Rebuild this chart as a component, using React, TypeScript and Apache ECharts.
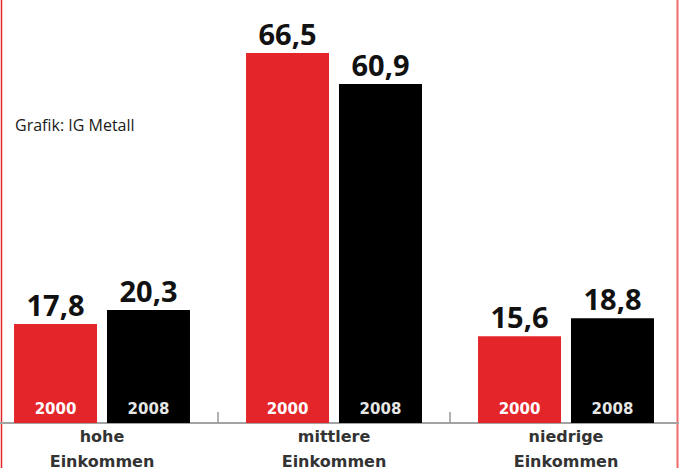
import React, { useEffect, useRef } from "react";
import * as echarts from "echarts";

const categories = ["hohe\nEinkommen", "mittlere\nEinkommen", "niedrige\nEinkommen"];
const yearA = "2000";
const yearB = "2008";
const values2000 = [17.8, 66.5, 15.6];
const values2008 = [20.3, 60.9, 18.8];
const sourceText = "Grafik: IG Metall";
const titleFragment = "(Angaben in %)";

const fmt = (v: number) => v.toFixed(1).replace(".", ",");

export default function App() {
  const ref = useRef<HTMLDivElement>(null);
  useEffect(() => {
    if (!ref.current) return;
    const chart = echarts.init(ref.current, null, { renderer: "svg" });
    const topLabel = {
      show: true,
      position: "top",
      distance: 5,
      formatter: (p: any) => fmt(p.value),
      fontFamily: "Open Sans",
      fontWeight: "bold",
      fontSize: 29,
      color: "#111",
    };
    const yearLabel = (year: string, color: string) => ({
      show: true,
      position: "insideBottom",
      distance: 7,
      formatter: () => year,
      fontFamily: "DejaVu Sans",
      fontWeight: "bold",
      fontSize: 15,
      color,
    });
    const barCommon = { type: "bar", barWidth: 83, barGap: "12%" };
    chart.setOption({
      animation: false,
      backgroundColor: "#ffffff",
      grid: { left: -14, width: 696, top: 0, height: 423, outerBoundsMode: "none", containLabel: false },
      xAxis: [
        {
          type: "category",
          data: categories,
          axisLine: { lineStyle: { color: "#a3a3a3", width: 2 } },
          axisTick: { show: true, inside: true, length: 11, lineStyle: { color: "#999", width: 1.5 } },
          axisLabel: {
            margin: 1,
            fontFamily: "DejaVu Sans",
            fontWeight: "bold",
            fontSize: 16,
            lineHeight: 25,
            color: "#333",
          },
        },
        { type: "category", data: categories, show: false },
      ],
      yAxis: { type: "value", min: 0, max: 76, show: false, splitLine: { show: false } },
      series: [
        { ...barCommon, name: yearA, data: values2000, itemStyle: { color: "#e4262b" }, label: topLabel },
        { ...barCommon, name: yearB, data: values2008, itemStyle: { color: "#000000" }, label: topLabel },
        {
          ...barCommon,
          name: yearA + " ",
          xAxisIndex: 1,
          data: values2000,
          itemStyle: { color: "rgba(0,0,0,0)" },
          label: yearLabel(yearA, "#ffffff"),
          z: 5,
        },
        {
          ...barCommon,
          name: yearB + " ",
          xAxisIndex: 1,
          data: values2008,
          itemStyle: { color: "rgba(0,0,0,0)" },
          label: yearLabel(yearB, "#e6e6e6"),
          z: 5,
        },
      ],
      graphic: [
        {
          type: "text",
          left: 424,
          top: -27,
          style: {
            text: titleFragment,
            fontFamily: "Open Sans",
            fontWeight: "bold",
            fontSize: 22,
            fill: "#111",
          },
        },
        {
          type: "text",
          left: 15,
          top: 117,
          style: {
            text: sourceText,
            fontFamily: "Open Sans",
            fontSize: 16,
            fill: "#1a1a1a",
          },
        },
        {
          type: "line",
          shape: { x1: 1.5, y1: 0, x2: 1.5, y2: 468 },
          style: { stroke: "#e4262b", lineWidth: 1.5 },
        },
        {
          type: "line",
          shape: { x1: 677.5, y1: 0, x2: 677.5, y2: 468 },
          style: { stroke: "#f06a6a", lineWidth: 2 },
        },
      ],
    });
    return () => chart.dispose();
  }, []);
  return (
    <div
      ref={ref}
      style={{ position: "fixed", left: 0, top: 0, width: 679, height: 468 }}
    />
  );
}
